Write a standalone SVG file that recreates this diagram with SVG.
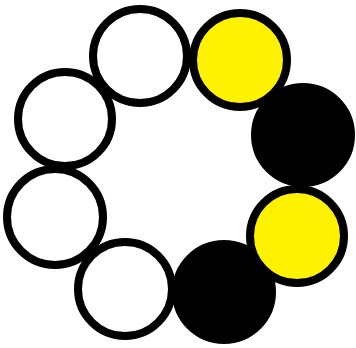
<svg xmlns="http://www.w3.org/2000/svg" width="356" height="348" viewBox="0 0 356 348">
<style>
circle{stroke:#000;stroke-width:8}
.w{fill:#fff}.y{fill:#fff200}.k{fill:#000}
</style>
<rect width="356" height="348" fill="#fff"/>
<g id="c5"><circle class="k" cx="224" cy="292" r="48"/></g>
<g id="c6"><circle class="w" cx="125" cy="289" r="47"/></g>
<g id="c7"><circle class="w" cx="55" cy="217" r="48"/></g>
<g id="c8"><circle class="w" cx="65" cy="119" r="47"/></g>
<g id="c1"><circle class="w" cx="140" cy="56" r="47"/></g>
<g id="c3"><circle class="k" cx="303" cy="135" r="48"/></g>
<g id="c2"><circle class="y" cx="240" cy="60" r="47"/></g>
<g id="c4"><circle class="y" cx="297" cy="236" r="47"/></g>
<g id="connectors"></g>
</svg>
